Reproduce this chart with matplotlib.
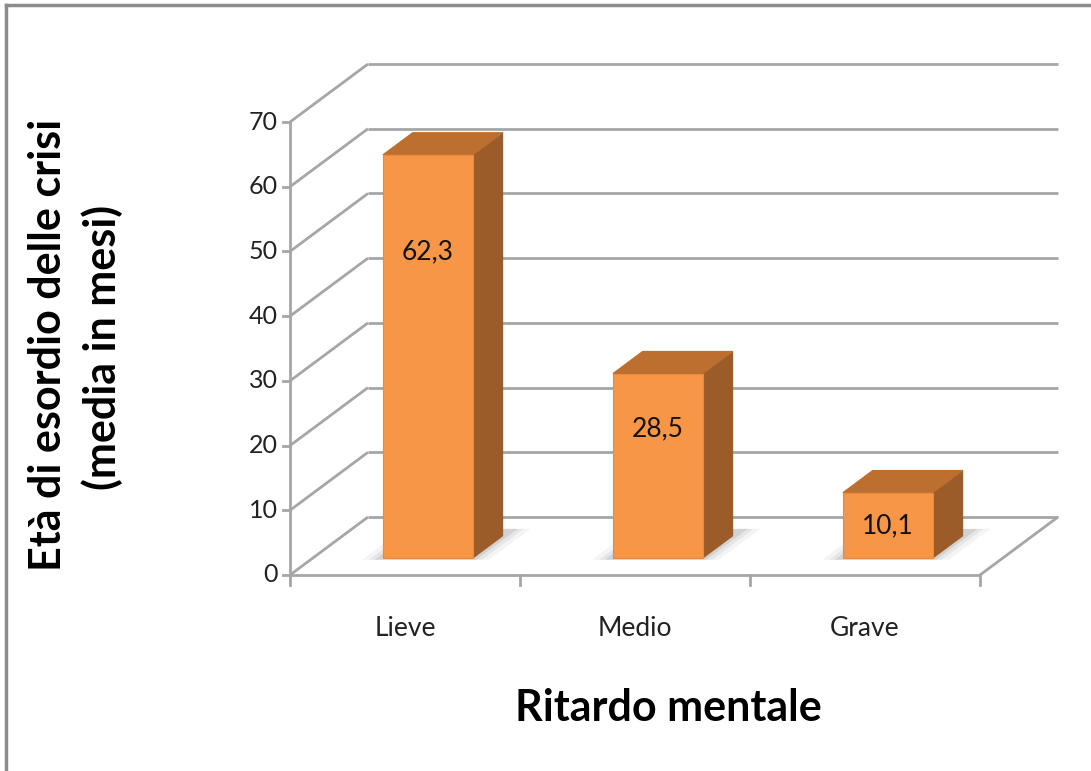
import matplotlib
matplotlib.use("Agg")
import matplotlib.pyplot as plt
from matplotlib.patches import Polygon

plt.rcParams["font.family"] = ["Lato", "DejaVu Sans"]

categories = ["Lieve", "Medio", "Grave"]
values = [62.3, 28.5, 10.1]
value_labels = ["62,3", "28,5", "10,1"]
yticks = [0, 10, 20, 30, 40, 50, 60, 70]

# label heights as a fraction of each bar
label_frac = [0.76, 0.70, 0.50]

FRONT = "#F79646"
TOP = "#BC6F2F"
SIDE = "#9C5C29"
GRID = "#A6A6A6"

W, H = 1091, 771
fig = plt.figure(figsize=(W / 100, H / 100), dpi=100)
# front plane of the 3-D box: x = category units, y = value units
ax = fig.add_axes([290 / W, (H - 575) / H, 690 / W, 453 / H])
ax.set_xlim(0, 3)
ax.set_ylim(0, 70)
ax.axis("off")

PX_X = 230          # pixels per category
PX_Y = 453 / 70     # pixels per value unit
# depth of the box in data units (78 px right, 58 px up)
DX = 78 / PX_X
DY = 58 / PX_Y


def pt(x, v, d):
    return (x + d * DX, v + d * DY)


def line(p, q, **kw):
    ax.plot([p[0], q[0]], [p[1], q[1]], color=GRID, lw=2.0, clip_on=False,
            solid_capstyle="butt", **kw)


# back wall gridlines and left wall diagonals
for v in yticks:
    line(pt(0, v, 1), pt(3, v, 1), zorder=1)
    line(pt(0, v, 0), pt(0, v, 1), zorder=1)
    ax.plot([-7 / PX_X, 0], [v, v], color=GRID, lw=2.0, clip_on=False)
    ax.text(-12 / PX_X, v, str(v), ha="right", va="center", fontsize=18,
            color="#222222", clip_on=False)

# floor edges
line(pt(0, 0, 0), pt(3, 0, 0), zorder=1)
line(pt(3, 0, 0), pt(3, 0, 1), zorder=1)
# front vertical axis
line(pt(0, 0, 0), pt(0, 70, 0), zorder=1)
# category ticks and names
for i in range(len(categories) + 1):
    ax.plot([i, i], [0, -10 / PX_Y], color=GRID, lw=2.0, clip_on=False)
for i, c in enumerate(categories):
    ax.text(i + 0.5, -53 / PX_Y, c, ha="center", va="center",
            fontsize=19, color="#222222", clip_on=False)

# bars
half = 0.391 / 2
d0, d1 = 0.293, 0.675
for i, v in enumerate(values):
    x0, x1 = i + 0.5 - half, i + 0.5 + half
    # soft shadow on the floor
    for k, a in zip([0.08, 0.05, 0.025], [0.06, 0.08, 0.12]):
        shadow = [pt(x0 - k, 0, d0 - 0.03), pt(x1 + k, 0, d0 - 0.03),
                  pt(x1 + k, 0, d1 + 0.12), pt(x0 - k, 0, d1 + 0.12)]
        ax.add_patch(Polygon(shadow, closed=True, fc="#444444", ec="none",
                             alpha=a, clip_on=False, zorder=2))
    top = [pt(x0, v, d0), pt(x1, v, d0), pt(x1, v, d1), pt(x0, v, d1)]
    side = [pt(x1, 0, d0), pt(x1, 0, d1), pt(x1, v, d1), pt(x1, v, d0)]
    front = [pt(x0, 0, d0), pt(x1, 0, d0), pt(x1, v, d0), pt(x0, v, d0)]
    ax.add_patch(Polygon(side, closed=True, fc=SIDE, ec=SIDE, lw=0.8,
                         clip_on=False, zorder=3))
    ax.add_patch(Polygon(top, closed=True, fc=TOP, ec=TOP, lw=0.8,
                         clip_on=False, zorder=3))
    ax.add_patch(Polygon(front, closed=True, fc=FRONT, ec="#E58A3E", lw=0.8,
                         clip_on=False, zorder=4))
    lx, ly = pt((x0 + x1) / 2, v * label_frac[i], d0)
    ax.text(lx, ly, value_labels[i], ha="center", va="center", fontsize=19,
            color="#111111", zorder=5, clip_on=False)

# axis titles
fig.text(48 / W, 1 - 345 / H, "Età di esordio delle crisi", rotation=90,
         ha="center", va="center", fontsize=31, fontweight="bold")
fig.text(102 / W, 1 - 347 / H, "(media in mesi)", rotation=90,
         ha="center", va="center", fontsize=31, fontweight="bold")
fig.text(668 / W, 1 - 708 / H, "Ritardo mentale", ha="center", va="center",
         fontsize=31, fontweight="bold")

# chart-area border (left and top)
fig.add_artist(plt.Line2D([6 / W, 6 / W], [0, 1 - 5 / H], color="#8C8C8C",
                          lw=2.5, transform=fig.transFigure))
fig.add_artist(plt.Line2D([6 / W, 1], [1 - 5 / H, 1 - 5 / H], color="#8C8C8C",
                          lw=2.5, transform=fig.transFigure))

fig.savefig("out.png", dpi=100, facecolor="white")
